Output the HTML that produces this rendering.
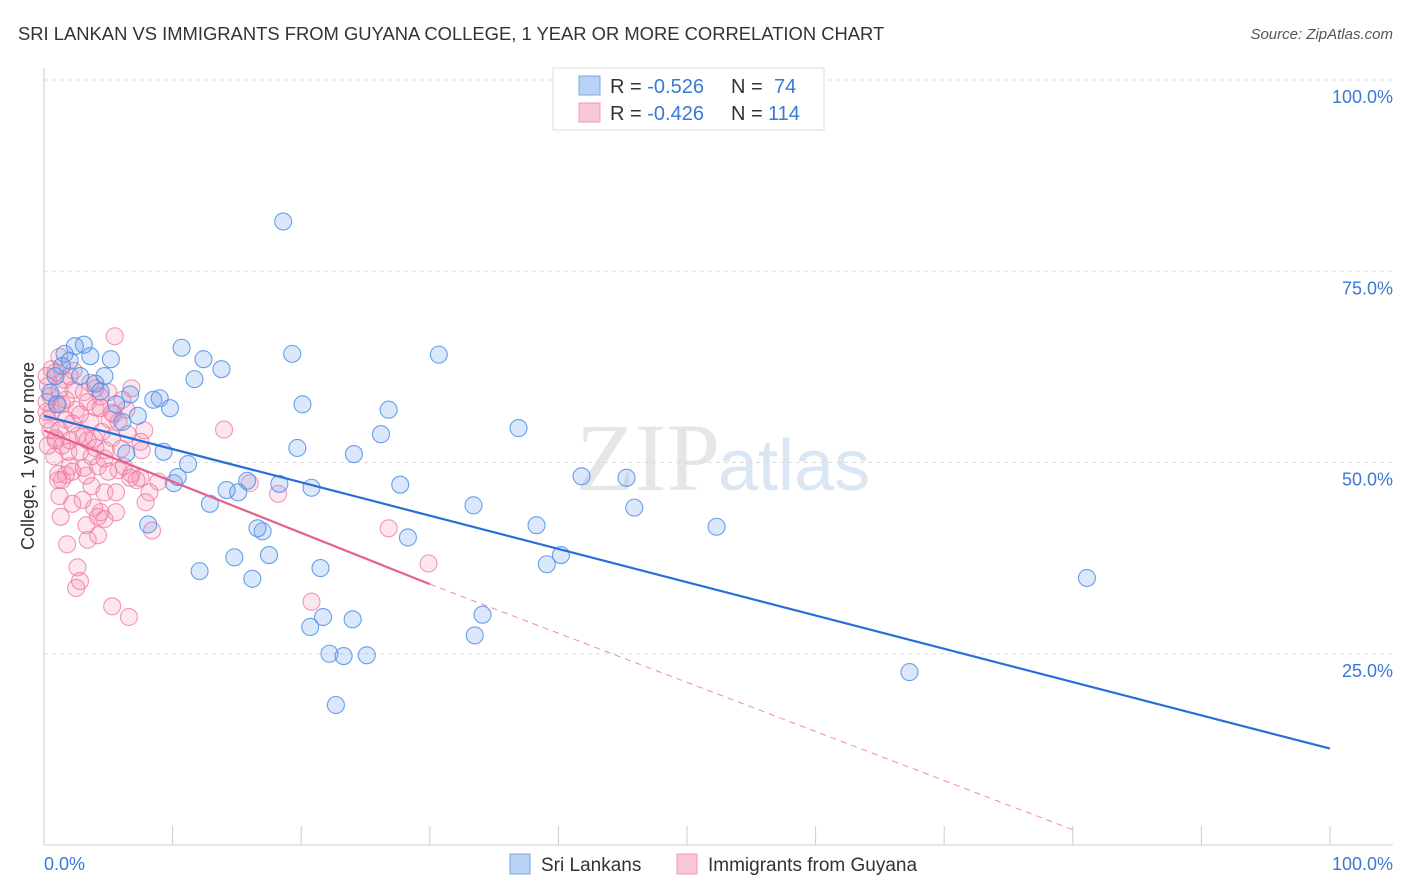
<!DOCTYPE html>
<html><head><meta charset="utf-8"><style>
body{margin:0;background:#fff;font-family:"Liberation Sans",sans-serif}
svg{display:block}
</style></head><body>
<svg id="chart" width="1406" height="892" viewBox="0 0 1406 892">
<text x="18" y="40" font-size="18.4" fill="#333">SRI LANKAN VS IMMIGRANTS FROM GUYANA COLLEGE, 1 YEAR OR MORE CORRELATION CHART</text>
<text x="1393" y="39" font-size="15" fill="#555" font-style="italic" text-anchor="end">Source: ZipAtlas.com</text>
<text x="720" y="490" font-size="96" fill="#e6e6e6" text-anchor="end" font-family="Liberation Serif,serif">ZIP</text>
<text x="718" y="490" font-size="72" fill="#dbe6f5">atlas</text>
<g id="grid"></g>
<g id="axes"></g>
<g id="pts"></g>
<g id="trend"></g>
<text transform="translate(34,456) rotate(-90)" font-size="18" fill="#333" text-anchor="middle">College, 1 year or more</text>
<g>
<rect x="553" y="68" width="271" height="62" fill="#fff" stroke="#ddd"/>
<rect x="579" y="76" width="21" height="19" fill="#b9d3f5" stroke="#7aa7e6"/>
<rect x="579" y="103" width="21" height="19" fill="#f9c6d6" stroke="#f29ab6"/>
<text x="610" y="93" font-size="20" fill="#333">R = <tspan fill="#3a78d6">-0.526</tspan><tspan x="731">N = </tspan><tspan fill="#3a78d6" x="774">74</tspan></text>
<text x="610" y="120" font-size="20" fill="#333">R = <tspan fill="#3a78d6">-0.426</tspan><tspan x="731">N = </tspan><tspan fill="#3a78d6" x="768">114</tspan></text>
</g>
<g>
<rect x="510" y="854" width="20" height="20" fill="#b9d3f5" stroke="#7aa7e6"/>
<text x="541" y="871" font-size="19" fill="#333">Sri Lankans</text>
<rect x="677" y="854" width="20" height="20" fill="#f9c6d6" stroke="#f29ab6"/>
<text x="708" y="871" font-size="19" fill="#333">Immigrants from Guyana</text>
</g>
</svg>
<script>
const yTicks=[25,50,75,100];
const yTickLabels=["25.0%","50.0%","75.0%","100.0%"];
const xTickLabels=["0.0%","100.0%"];
const blueX=[18.6,10.7,12.4,13.8,11.7,5.2,19.3,30.7,3.1,2.4,1.6,1.4,0.9,2.0,3.6,4.7,6.7,8.5,9.0,9.8,7.3,6.1,5.6,4.0,4.4,20.1,26.8,19.7,26.2,24.1,36.9,9.3,6.4,11.2,10.1,15.8,18.3,15.1,14.2,20.8,27.7,41.8,45.3,33.4,45.9,52.3,38.3,10.4,12.9,17.0,16.6,28.3,14.8,17.5,21.5,40.2,39.1,12.1,16.2,34.1,21.7,20.7,24.0,33.5,22.2,23.3,25.1,22.7,67.3,81.1,8.1,2.8,0.5,1.0];
const blueY=[81.5,65.0,63.5,62.2,60.9,63.5,64.2,64.1,65.4,65.2,64.2,62.6,61.3,63.3,63.9,61.3,58.9,58.2,58.4,57.1,56.1,55.3,57.6,60.3,59.3,57.6,56.9,51.9,53.7,51.1,54.5,51.4,51.2,49.8,47.3,47.6,47.2,46.1,46.4,46.7,47.1,48.2,48.0,44.4,44.1,41.6,41.8,48.1,44.6,41.0,41.4,40.2,37.6,37.9,36.2,37.9,36.7,35.8,34.8,30.1,29.8,28.5,29.5,27.4,25.0,24.7,24.8,18.3,22.6,34.9,41.9,61.3,59.1,57.6];
const pinkX=[5.5,14.0,26.8,29.9,20.8,18.2,16.0,8.4,6.6,5.3,2.5,2.6,2.8,1.8,3.4,4.2,1.3,4.2,1.2,3.0,4.7,5.6,4.4,3.7,1.4,1.1,2.0,3.1,4.2,5.8,6.8,7.5,8.2,8.9,7.9,5.3,4.8,4.0,3.4,2.6,2.0,1.4,0.9,0.5,0.3,0.6,1.1,1.7,2.3,3.1,4.0,5.0,0.3,0.5,0.9,1.6,3.6,4.5,5.8,6.5,7.5,7.8,6.4,5.4,6.8,2.5,1.7,1.2,0.3,0.8,1.9,2.8,3.7,4.7,6.0,3.3,2.2,0.2,0.2,0.6,2.0,3.4,4.4,1.2,0.2,1.4,2.8,4.0,5.1,1.7,1.1,6.2,7.2,7.6,6.1,6.7,5.6,3.9,2.2,3.3,4.7,1.2,2.3,3.6,4.4,5.3,0.9,2.2,3.1,3.9,5.0];
const pinkY=[66.5,54.3,41.4,36.8,31.8,45.9,47.3,41.1,29.8,31.2,33.6,36.3,34.5,39.3,39.9,40.5,42.9,42.9,45.6,45.1,46.1,46.1,43.5,46.9,47.7,48.5,49.5,49.3,49.5,49.0,48.5,48.0,46.1,47.5,44.8,53.2,51.6,51.9,52.9,53.5,52.9,52.2,52.9,54.2,55.6,56.6,57.6,58.2,59.5,59.2,59.7,59.2,60.0,58.7,61.8,60.8,55.3,54.0,55.3,53.7,52.7,54.2,56.9,56.3,59.7,56.9,55.6,54.2,52.2,50.8,51.4,51.4,50.8,50.5,51.8,48.3,48.8,56.6,57.9,62.2,61.3,57.9,57.1,59.5,61.3,57.6,56.3,57.2,55.6,48.4,47.7,49.5,47.7,51.6,58.2,48.0,43.5,44.1,44.6,41.8,42.6,63.8,62.0,60.4,58.6,56.5,53.2,55.1,53.4,53.1,48.8];
const blueTrend=[0,56.1,100,12.6];
const pinkTrend=[0,54.2,30,34.1];
const pinkDashEnd=[80,2];
const X=v=>44+v*12.86, Y=v=>845-v*7.65;
const NS="http://www.w3.org/2000/svg";
function mk(t,a,p){const e=document.createElementNS(NS,t);for(const k in a)e.setAttribute(k,a[k]);p.appendChild(e);return e;}
const grid=document.getElementById('grid'),axes=document.getElementById('axes'),pts=document.getElementById('pts'),tr=document.getElementById('trend');
yTicks.forEach((t,i)=>{
const l=mk('line',{x1:44,x2:1393,y1:Y(t),y2:Y(t),stroke:'#ddd','stroke-dasharray':'4,4'},grid);


const tx=mk('text',{x:1393,y:Y(t)+23,'font-size':18,fill:'#3a78d6','text-anchor':'end'},axes);
tx.textContent=yTickLabels[i];


});
const la=mk('line',{x1:44,x2:44,y1:68,y2:845,stroke:'#ccc'},axes);


const lb=mk('line',{x1:44,x2:1393,y1:845,y2:845,stroke:'#ccc'},axes);


for(let i=0;i<=10;i++){const t=mk('line',{x1:X(i*10),x2:X(i*10),y1:826,y2:845,stroke:'#ccc'},axes);

}
const x0=mk('text',{x:44,y:870,'font-size':18,fill:'#3a78d6'},axes);x0.textContent=xTickLabels[0];


const x1=mk('text',{x:1393,y:870,'font-size':18,fill:'#3a78d6','text-anchor':'end'},axes);x1.textContent=xTickLabels[1];


pinkX.forEach((v,i)=>{const c=mk('circle',{cx:X(v),cy:Y(pinkY[i]),r:8.5,fill:'rgba(244,143,177,0.22)',stroke:'rgba(236,120,160,0.75)','stroke-width':1.1},pts);

});
blueX.forEach((v,i)=>{const c=mk('circle',{cx:X(v),cy:Y(blueY[i]),r:8.5,fill:'rgba(110,160,235,0.25)',stroke:'rgba(80,145,230,0.85)','stroke-width':1.1},pts);

});
const bl=mk('line',{x1:X(blueTrend[0]),y1:Y(blueTrend[1]),x2:X(blueTrend[2]),y2:Y(blueTrend[3]),stroke:'#2a6fd6','stroke-width':2.2},tr);


const pd=mk('line',{x1:X(pinkTrend[2]),y1:Y(pinkTrend[3]),x2:X(pinkDashEnd[0]),y2:Y(pinkDashEnd[1]),stroke:'#f08aaa','stroke-width':1,'stroke-dasharray':'6,5'},tr);


const pl=mk('line',{x1:X(pinkTrend[0]),y1:Y(pinkTrend[1]),x2:X(pinkTrend[2]),y2:Y(pinkTrend[3]),stroke:'#e5608c','stroke-width':2.2},tr);


</script>
</body></html>
